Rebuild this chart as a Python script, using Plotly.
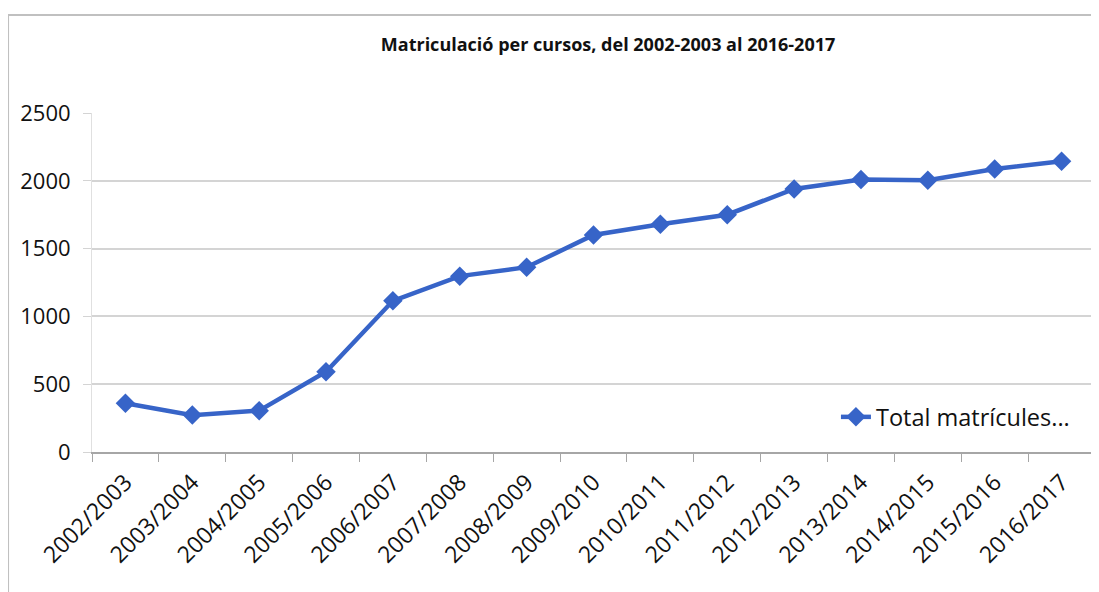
import plotly.graph_objects as go

courses = ["2002/2003", "2003/2004", "2004/2005", "2005/2006", "2006/2007",
           "2007/2008", "2008/2009", "2009/2010", "2010/2011", "2011/2012",
           "2012/2013", "2013/2014", "2014/2015", "2015/2016", "2016/2017"]
total_matricules = [360, 272, 305, 592, 1115, 1297, 1363, 1600, 1680, 1750,
                    1940, 2010, 2004, 2087, 2144]
y_ticks = [0, 500, 1000, 1500, 2000, 2500]

LINE = "#3764c8"
TXT = "#111111"

fig = go.Figure()
fig.add_trace(go.Scatter(
    x=courses, y=total_matricules, mode="lines+markers",
    name="Total matrícules...",
    line=dict(color=LINE, width=4.5),
    marker=dict(symbol="diamond", size=15, color=LINE),
))

fig.update_layout(
    width=1091, height=584,
    margin=dict(l=84, r=4, t=105, b=140),
    paper_bgcolor="white", plot_bgcolor="white",
    font=dict(family="Open Sans", color=TXT),
    title=dict(text="<b>Matriculació per cursos, del 2002-2003 al 2016-2017</b>",
               font=dict(family="Open Sans", size=18, color=TXT),
               xref="container", x=0.550, xanchor="center",
               yref="container", y=1 - 37 / 584, yanchor="middle"),
    showlegend=True,
    legend=dict(x=0.980, y=0.103, xanchor="right", yanchor="middle",
                bgcolor="rgba(0,0,0,0)", font=dict(size=23.5, color=TXT)),
    xaxis=dict(type="category", range=[-0.5, 14.5], tickangle=-45,
               tickfont=dict(size=23, color=TXT),
               showline=True, linecolor="#a6a6a6", linewidth=1.5,
               ticks="outside", tickson="boundaries", ticklen=8,
               tickcolor="#a6a6a6", showgrid=False, ticklabelstandoff=6),
    yaxis=dict(range=[0, 2500], tickvals=y_ticks,
               tickfont=dict(size=22, color=TXT),
               showgrid=True, gridcolor="#d4d4d4", gridwidth=1.5,
               showline=True, linecolor="#e0e0e0", linewidth=1,
               ticks="outside", ticklen=8, tickcolor="#d4d4d4",
               zeroline=False, ticklabelstandoff=8),
    shapes=[dict(type="rect", xref="paper", yref="paper",
                 x0=-0.0837, x1=1.0, y0=-0.437, y1=1.289,
                 line=dict(color="#c0c0c0", width=2), layer="below")],
)

fig.write_html("out.html")
